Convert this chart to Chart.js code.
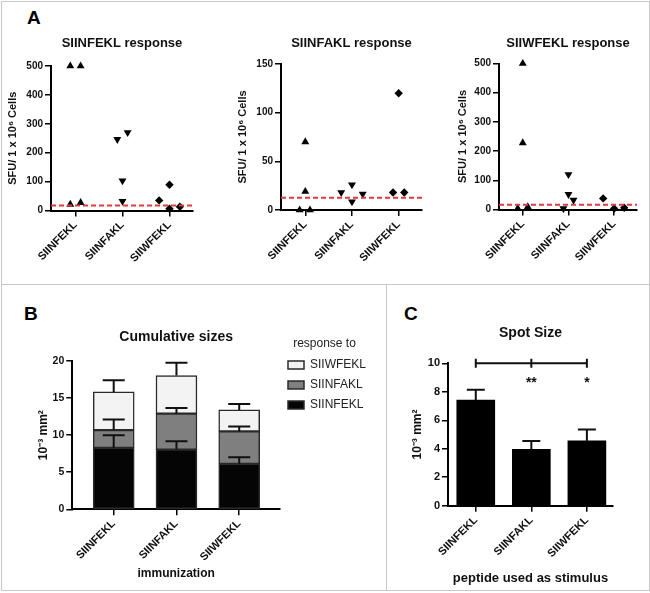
<!DOCTYPE html>
<html>
<head>
<meta charset="utf-8">
<title>ELISpot responses</title>
<script src="https://cdn.jsdelivr.net/npm/chart.js@4.4.1/dist/chart.umd.min.js"></script>
<style>
  html, body { margin: 0; padding: 0; background: #fff; }
  body { position: relative; width: 650px; height: 593px; overflow: hidden;
         font-family: "Liberation Sans", Arial, sans-serif; }
  .frame { position: absolute; border: 1px solid #c8c8c8; box-sizing: border-box; }
  .rule { position: absolute; background: #c8c8c8; }
  .panel { position: absolute; font-weight: bold; font-size: 19px; line-height: 19px; color: #000; }
  canvas { position: absolute; }
</style>
</head>
<body>
<div class="frame" style="left:1px;top:1px;width:649px;height:590px"></div>
<div class="rule" style="left:1px;top:284px;width:649px;height:1px"></div>
<div class="rule" style="left:386px;top:284px;width:1px;height:306px"></div>
<div class="panel" style="left:27px;top:7.5px">A</div>
<div class="panel" style="left:24px;top:303.5px">B</div>
<div class="panel" style="left:404px;top:303.5px">C</div>
<canvas id="a1"></canvas>
<canvas id="a2"></canvas>
<canvas id="a3"></canvas>
<canvas id="chartB"></canvas>
<canvas id="chartC"></canvas>
<script>
(function () {

    'use strict';

    // ---------- data ----------

    const peptides = ['SIINFEKL', 'SIINFAKL', 'SIIWFEKL'];
    const aTitles = ['SIINFEKL response', 'SIINFAKL response', 'SIIWFEKL response'];

    // panel A, SFU / 1e6 cells per mouse, grouped by immunizing peptide
    // SIINFEKL response
    const a1Siinfekl = [500, 500, 21, 27];
    const a1Siinfakl = [246, 270, 103, 32];
    const a1Siiwfekl = [35, 89, 6, 13];
    // SIINFAKL response
    const a2Siinfekl = [70, 19, 0, 0];
    const a2Siinfakl = [18, 26, 8.5, 16.5];
    const a2Siiwfekl = [120, 18, 18];
    // SIIWFEKL response
    const a3Siinfekl = [500, 228, 4, 9];
    const a3Siinfakl = [120, 52, 3, 32];
    const a3Siiwfekl = [38, 3, 6];
    // background cut-off (red dashed line)
    const cutoffs = [17, 12.5, 16];
    const aMax = [500, 150, 500];
    const aStep = [100, 50, 100];

    // panel B, cumulative spot sizes (10^-3 mm2), stacked by response
    const bSiinfekl = [8.28, 8.05, 6.13];
    const bSiinfakl = [2.4, 4.85, 4.37];
    const bSiiwfekl = [5.15, 5.13, 2.9];
    const bSemSiinfekl = [1.72, 1.12, 0.89];
    const bSemSiinfakl = [1.43, 0.75, 0.68];
    const bSemSiiwfekl = [1.56, 1.74, 0.79];

    // panel C, spot size per stimulus
    const cMeans = [7.42, 3.96, 4.55];
    const cSem = [0.72, 0.58, 0.8];
    const cSig = ['', '**', '*'];
    const cBracketLevel = 10;

    // ---------- layout (page pixels) ----------

    // horizontal spread of the dots inside each group (category units)
    const aSpread = [
        [[-0.11, 0.11, -0.11, 0.11], [-0.11, 0.11, 0, 0], [-0.22, 0, 0, 0.22]],
        [[0, 0, -0.12, 0.1], [-0.23, 0, 0, 0.23], [0, -0.12, 0.12]],
        [[0, 0, -0.11, 0.11], [0, 0, -0.11, 0.11], [-0.24, 0, 0.22]]
    ];
    const markers = [
        { style: 'triangle', rot: 0, r: 4.6 },
        { style: 'triangle', rot: 180, r: 4.6 },
        { style: 'rectRot', rot: 0, r: 4.2 }
    ];
    const aRange = [-0.52, 2.5];

    const aBoxes = [
        { l: 2, t: 2, w: 210, h: 278 },
        { l: 215, t: 2, w: 212, h: 278 },
        { l: 430, t: 2, w: 218, h: 278 }
    ];
    const aAreas = [
        { l: 51, t: 66, r: 193, b: 210.5 },
        { l: 281, t: 64, r: 422, b: 210 },
        { l: 499, t: 63.5, r: 637, b: 209.5 }
    ];
    const aYTitleX = [13, 243.3, 463.3];

    const font = '"Liberation Sans", Arial, sans-serif';
    const ink = '#111';

    Chart.defaults.font.family = font;
    Chart.defaults.font.weight = 'bold';
    Chart.defaults.color = ink;
    Chart.defaults.animation = false;

    window.addEventListener('load', init);

    function init() {
        for (let k = 0; k < 3; k++) {
            drawResponse(k);
        }
        drawCumulative();
        drawSpotSize();
    }

    function drawResponse(k) {
        const groups = [[a1Siinfekl, a1Siinfakl, a1Siiwfekl],
            [a2Siinfekl, a2Siinfakl, a2Siiwfekl],
            [a3Siinfekl, a3Siinfakl, a3Siiwfekl]][k];
        const fr = frameFor(aBoxes[k], aAreas[k], {
            titleY: 43.5, titleSize: 13, yTitleX: aYTitleX[k], yTitleSize: 11
        });

        let sets = [{
            data: [{ x: aRange[0], y: cutoffs[k] }, { x: aRange[1], y: cutoffs[k] }],
            showLine: true, borderColor: '#e0393e', borderWidth: 2, borderDash: [5, 3],
            pointRadius: 0
        }];
        groups.forEach((vals, g) => {
            sets.push({
                data: vals.map((v, i) => ({ x: g + aSpread[k][g][i], y: v })),
                pointStyle: markers[g].style,
                pointRotation: markers[g].rot,
                pointRadius: markers[g].r,
                pointBackgroundColor: '#000',
                pointBorderWidth: 0,
                clip: false
            });
        });

        new Chart(setupCanvas('a' + (k + 1), aBoxes[k]), {
            type: 'scatter',
            data: { datasets: sets },
            options: {
                responsive: false,
                layout: { padding: fr.padding },
                plugins: {
                    legend: { display: false },
                    tooltip: { enabled: false },
                    title: chartTitle(aTitles[k], 13, fr)
                },
                scales: {
                    x: catAxis(aRange[0], aRange[1], fr, null, 0),
                    y: valueAxis(aMax[k], aStep[k], fr, 'SFU/ 1 x 10\u2076 Cells', 11, 10)
                }
            }
        });
    }

    function drawCumulative() {
        const box = { l: 2, t: 286, w: 383, h: 303 };
        const area = { l: 72.3, t: 361, r: 280, b: 509.3 };
        const parts = [
            { label: 'SIINFEKL', vals: bSiinfekl, sem: bSemSiinfekl, color: '#050505' },
            { label: 'SIINFAKL', vals: bSiinfakl, sem: bSemSiinfakl, color: '#7f7f7f' },
            { label: 'SIIWFEKL', vals: bSiiwfekl, sem: bSemSiiwfekl, color: '#f3f3f3' }
        ];

        // legend width: padding + box + gap + widest label
        const legendPad = 8;
        const mctx = document.createElement('canvas').getContext('2d');
        mctx.font = 'normal 12px ' + font;
        const textW = Math.max(...parts.map(p => mctx.measureText(p.label).width));
        const legendW = Math.ceil(legendPad + 16 + 6 + textW + 2);

        const fr = frameFor(box, area, {
            titleY: 337.5, titleSize: 14, yTitleX: 44, yTitleSize: 12,
            xTitleY: 574, xTitleSize: 12, rightW: legendW
        });
        const legendTop = box.t + fr.padding.top;
        const xRange = [-0.66, 2.65];

        new Chart(setupCanvas('chartB', box), {
            type: 'bar',
            data: {
                datasets: parts.map(p => ({
                    label: p.label,
                    data: p.vals.map((v, i) => ({ x: i, y: v })),
                    sem: p.sem,
                    backgroundColor: p.color,
                    borderColor: '#2a2a2a',
                    borderWidth: 1.5,
                    borderSkipped: false,
                    barThickness: 41
                }))
            },
            plugins: [errorBars],
            options: {
                responsive: false,
                layout: { padding: fr.padding },
                plugins: {
                    tooltip: { enabled: false },
                    title: chartTitle('Cumulative sizes', 14, fr),
                    errorBars: { cap: 22 },
                    legend: {
                        display: true, position: 'right', align: 'start', reverse: true,
                        maxWidth: legendW,
                        labels: {
                            boxWidth: 16, boxHeight: 8, padding: legendPad, color: '#222',
                            font: { size: 12, weight: 'normal' }
                        },
                        title: {
                            display: true, text: 'response to', position: 'center', color: '#222',
                            font: { size: 12, weight: 'normal', lineHeight: 1 },
                            padding: { top: 344 - 6 - legendTop, bottom: 1 }
                        }
                    }
                },
                scales: {
                    x: Object.assign(catAxis(xRange[0], xRange[1], fr, 'immunization', 12), { stacked: true }),
                    y: Object.assign(valueAxis(20, 5, fr, '10\u207B\u00B3 mm\u00B2', 12, 10.5), { stacked: true })
                }
            }
        });
    }

    function drawSpotSize() {
        const box = { l: 388, t: 286, w: 260, h: 303 };
        const area = { l: 448, t: 363.3, r: 613, b: 505.7 };
        const fr = frameFor(box, area, {
            titleY: 333.5, titleSize: 14, yTitleX: 418, yTitleSize: 12,
            xTitleY: 578, xTitleSize: 13
        });
        const xRange = [-0.5, 2.47];

        new Chart(setupCanvas('chartC', box), {
            type: 'bar',
            data: {
                datasets: [{
                    label: 'Spot Size',
                    data: cMeans.map((v, i) => ({ x: i, y: v })),
                    sem: cSem,
                    backgroundColor: '#000',
                    borderWidth: 0,
                    barThickness: 38
                }]
            },
            plugins: [errorBars, sigBracket],
            options: {
                responsive: false,
                layout: { padding: fr.padding },
                plugins: {
                    legend: { display: false },
                    tooltip: { enabled: false },
                    title: chartTitle('Spot Size', 14, fr),
                    errorBars: { cap: 18 },
                    sigBracket: { level: cBracketLevel, marks: cSig }
                },
                scales: {
                    x: catAxis(xRange[0], xRange[1], fr, 'peptide used as stimulus', 13),
                    y: valueAxis(10, 2, fr, '10\u207B\u00B3 mm\u00B2', 12, 11)
                }
            }
        });
    }

    /* ------------------------------ helpers ------------------------------ */

    // padding and fixed axis sizes so the plot area lands on 'area'
    function frameFor(box, area, f) {
        const topPad = 4;
        const tLH = f.titleSize * 1.2;
        const boxTop = box.t + topPad;
        const tPadTop = f.titleY - tLH / 2 - boxTop;
        const tPadBottom = area.t - boxTop - tLH - tPadTop;
        const yLeft = f.yTitleX - f.yTitleSize * 1.2 / 2;
        const xBottom = f.xTitleY ? f.xTitleY + f.xTitleSize * 1.2 / 2 : box.t + box.h;
        return {
            padding: {
                left: yLeft - box.l,
                top: topPad,
                right: box.l + box.w - area.r - (f.rightW || 0),
                bottom: box.t + box.h - xBottom
            },
            titlePad: { top: tPadTop, bottom: tPadBottom },
            yWidth: area.l - yLeft,
            xHeight: xBottom - area.b
        };
    }

    function setupCanvas(idName, box) {
        let cv = id(idName);
        cv.width = box.w;
        cv.height = box.h;
        cv.style.left = box.l + 'px';
        cv.style.top = box.t + 'px';
        cv.style.width = box.w + 'px';
        cv.style.height = box.h + 'px';
        return cv;
    }

    function chartTitle(text, size, fr) {
        return {
            display: true, text: text, fullSize: false, color: ink,
            font: { size: size, weight: 'bold' },
            padding: fr.titlePad
        };
    }

    function catAxis(min, max, fr, titleText, titleSize) {
        return {
            type: 'linear', min: min, max: max, offset: false,
            afterBuildTicks: s => { s.ticks = peptides.map((p, i) => ({ value: i })); },
            afterFit: s => { s.height = fr.xHeight; },
            grid: { drawOnChartArea: false, offset: false, color: '#000', lineWidth: 1.5, tickLength: 6 },
            border: { display: true, color: '#000', width: 2 },
            ticks: {
                autoSkip: false, minRotation: 45, maxRotation: 45, padding: 2, color: ink,
                font: { size: 11, weight: 'bold' },
                callback: v => peptides[v]
            },
            title: titleText ? {
                display: true, text: titleText, color: ink,
                font: { size: titleSize, weight: 'bold' }, padding: 0
            } : { display: false }
        };
    }

    function valueAxis(max, step, fr, titleText, titleSize, tickSize) {
        return {
            type: 'linear', min: 0, max: max,
            afterFit: s => { s.width = fr.yWidth; },
            grid: { drawOnChartArea: false, color: '#000', lineWidth: 1.5, tickLength: 6 },
            border: { display: true, color: '#000', width: 2 },
            ticks: { stepSize: step, padding: 2, color: ink, font: { size: tickSize, weight: 'bold' } },
            title: {
                display: true, text: titleText, color: ink,
                font: { size: titleSize, weight: 'bold' }, padding: 0
            }
        };
    }

    // upper SEM whiskers on top of each bar segment
    const errorBars = {
        id: 'errorBars',
        afterDatasetsDraw(chart, args, opts) {
            const ctx = chart.ctx;
            const y = chart.scales.y;
            chart.data.datasets.forEach((ds, di) => {
                if (!ds.sem) return;
                chart.getDatasetMeta(di).data.forEach((bar, i) => {
                    const top = y.getPixelForValue(y.getValueForPixel(bar.y) + ds.sem[i]);
                    ctx.save();
                    ctx.strokeStyle = ink;
                    ctx.lineWidth = 2;
                    ctx.beginPath();
                    ctx.moveTo(bar.x, bar.y);
                    ctx.lineTo(bar.x, top);
                    ctx.moveTo(bar.x - opts.cap / 2, top);
                    ctx.lineTo(bar.x + opts.cap / 2, top);
                    ctx.stroke();
                    ctx.restore();
                });
            });
        }
    };

    // significance bracket with stars above panel C
    const sigBracket = {
        id: 'sigBracket',
        afterDatasetsDraw(chart, args, opts) {
            const ctx = chart.ctx;
            const x = chart.scales.x;
            const y = chart.scales.y;
            const yp = y.getPixelForValue(opts.level);
            const xs = opts.marks.map((m, i) => x.getPixelForValue(i));
            ctx.save();
            ctx.strokeStyle = ink;
            ctx.lineWidth = 2;
            ctx.beginPath();
            ctx.moveTo(xs[0], yp);
            ctx.lineTo(xs[xs.length - 1], yp);
            xs.forEach(px => {
                ctx.moveTo(px, yp - 4.5);
                ctx.lineTo(px, yp + 4.5);
            });
            ctx.stroke();
            ctx.fillStyle = ink;
            ctx.font = 'bold 14px ' + font;
            ctx.textAlign = 'center';
            ctx.textBaseline = 'middle';
            opts.marks.forEach((m, i) => {
                if (m) ctx.fillText(m, xs[i], yp + 20);
            });
            ctx.restore();
        }
    };

    function id(idName) {
        return document.getElementById(idName);
    }

})();
</script>
</body>
</html>
